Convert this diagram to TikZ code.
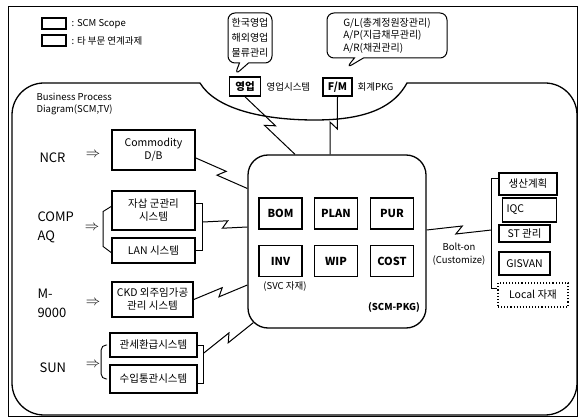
\documentclass[tikz,border=0pt]{standalone}
\usepackage{fontspec}
\setmainfont{Noto Sans CJK KR}
\usetikzlibrary{shapes.callouts,calc,positioning}

\begin{document}
\begin{tikzpicture}[x=1pt, y=-1pt,
    sysbox/.style={draw, line width=1.7pt, align=center, inner sep=1pt, font=\fontsize{10.5}{13}\selectfont},
    modbox/.style={draw, line width=1.9pt, minimum width=43pt, minimum height=31pt, font=\bfseries\fontsize{11}{13}\selectfont},
    optbox/.style={draw, line width=1.1pt, inner sep=1pt, font=\fontsize{10.5}{12}\selectfont},
    tagbox/.style={draw, line width=1.6pt, inner sep=1pt, font=\bfseries\fontsize{10.5}{12}\selectfont},
    src/.style={anchor=west, align=left, font=\fontsize{13}{19}\selectfont},
    imp/.style={font=\fontsize{15}{15}\selectfont, inner sep=0pt},
    note/.style={font=\fontsize{9.5}{12.5}\selectfont},
    bubble/.style={draw, rectangle callout, rounded corners=7pt, line width=1pt, callout pointer width=9pt, inner sep=2pt},
    brk/.style={line width=0.9pt},
    zap/.style={line width=1pt, to path={-- ($(\tikztostart)!0.55!(\tikztotarget)!4pt!90:(\tikztotarget)$) -- ($(\tikztostart)!0.45!(\tikztotarget)!4pt!-90:(\tikztotarget)$) -- (\tikztotarget)}}
  ]
  \useasboundingbox (0,0) rectangle (578,419);
  \draw[line width=0.6pt] (8,6) rectangle (577,416);
  \draw[line width=1.3pt] (200,83) [rounded corners=32pt] -- (12,83) -- (12,415) -- (577,415) -- (577,83) [sharp corners] -- (407,83)
    .. controls (395,105) and (370,120) .. (315,120) .. controls (260,120) and (215,108) .. (200,83);

  % legend
  \node[draw, line width=1.9pt, minimum width=24pt, minimum height=11pt, inner sep=0pt] (lgscm) at (54,23.5) {};
  \node[draw, line width=1.3pt, minimum width=24pt, minimum height=11pt, inner sep=0pt] (lgext) at (54,40.5) {};
  \node[note, anchor=west] (lgscmt) at (68,24) {: SCM Scope};
  \node[note, anchor=west] (lgextt) at (68,41) {: 타 부문 연계과제};

  % top systems
  \node[tagbox, minimum width=31pt, minimum height=19pt] (ye) at (245,86.5) {영업};
  \node[note, anchor=west] (yet) at (263,87) {영업시스템};
  \node[tagbox, minimum width=29pt, minimum height=18pt] (fm) at (337.5,87) {F/M};
  \node[note, anchor=west] (fmt) at (354,87) {회계PKG};
  \node[bubble, align=center, minimum width=44pt, minimum height=50pt, font=\fontsize{10}{15}\selectfont,
    callout absolute pointer={([xshift=6pt,yshift=1pt]ye.north west)}] (bub1) at (250,38) {한국영업\\해외영업\\물류관리};
  \node[bubble, align=left, minimum width=120pt, minimum height=45pt, font=\fontsize{10}{12.5}\selectfont,
    callout absolute pointer={([xshift=24pt,yshift=9pt]fm.north west)}] (bub2) at (387,35.5) {G/L(총계정원장관리)\\A/P(지급채무관리)\\A/R(채권관리)};

  \node[note, anchor=west, align=left] (bpd) at (33,104) {Business Process\\Diagram(SCM,TV)};

  % sources
  \node[src] (ncr) at (36,158) {NCR};
  \node[src] (comp) at (34,227) {COMP\\AQ};
  \node[src] (m9) at (34,303) {M-\\9000};
  \node[src] (sun) at (36,368) {SUN};
  \node[imp] (ar1) at (93,155) {$\Rightarrow$};
  \node[imp] (ar2) at (92,228) {$\Rightarrow$};
  \node[imp] (ar3) at (93,303) {$\Rightarrow$};
  \node[imp] (ar4) at (93,365) {$\Rightarrow$};

  \node[sysbox, minimum width=83pt, minimum height=40pt] (cdb) at (153.5,150) {Commodity\\D/B};
  \node[sysbox, minimum width=83pt, minimum height=39pt] (jasan) at (153.5,210.5) {자삽 군관리\\시스템};
  \node[sysbox, minimum width=83pt, minimum height=25pt] (lan) at (153.5,250.5) {LAN 시스템};
  \node[sysbox, minimum width=81pt, minimum height=35pt] (ckd) at (152.5,299.5) {CKD 외주임가공\\관리 시스템};
  \node[sysbox, minimum width=87pt, minimum height=24pt] (gwan) at (153.5,345) {관세환급시스템};
  \node[sysbox, minimum width=87pt, minimum height=28pt] (suip) at (153.5,379) {수입통관시스템};

  \draw[brk] ([yshift=4pt]jasan.west) -- ++(-8,5) -- ([xshift=-8pt,yshift=4pt]lan.west) -- ([yshift=-2pt]lan.west);
  \draw[brk] ([yshift=7.5pt]jasan.east) -- ++(7,0) |- (lan.east);
  \draw[brk, rounded corners=5pt] ([xshift=-2pt]gwan.west) -| ([xshift=-8pt]suip.west) -- ([xshift=-2pt]suip.west);
  \draw[brk] (gwan.east) -- ++(6,0) |- ([yshift=-4pt]suip.east);

  % SCM package
  \node[draw, line width=1.3pt, rounded corners=20pt, minimum width=178pt, minimum height=173pt] (scm) at (337,241.5) {};
  \node[modbox] (bom) at (280.5,213.5) {BOM};
  \node[modbox] (plan) at (336,213.5) {PLAN};
  \node[modbox] (pur) at (392,213.5) {PUR};
  \node[modbox] (inv) at (280.5,261) {INV};
  \node[modbox] (wip) at (336,261) {WIP};
  \node[modbox] (cost) at (392,261) {COST};
  \node[note] (svc) at (285,287) {(SVC 자재)};
  \node[note, font=\bfseries\fontsize{9.5}{12}\selectfont] (pkg) at (394,307) {(SCM-PKG)};

  % bolt-on side
  \node[optbox, minimum width=58pt, minimum height=22pt] (sc) at (528,184) {생산계획};
  \node[optbox, text width=46pt, align=left, minimum height=24pt, inner xsep=4pt] (iqc) at (529.5,210) {IQC};
  \node[optbox, minimum width=51pt, minimum height=17pt] (st) at (524.5,233.5) {ST 관리};
  \node[optbox, minimum width=51pt, minimum height=23pt] (gis) at (524.5,263.5) {GISVAN};
  \node[optbox, dotted, line width=1.2pt, minimum width=70pt, minimum height=24pt] (loc) at (533,295) {Local 자재};
  \draw[brk] ([yshift=6pt]sc.west) -- ++(-7,0) |- ([yshift=7pt]loc.west);
  \node[note, align=center] (bolt) at (459,254) {Bolt-on\\(Customize)};

  % links
  \coordinate (cdbo) at ([yshift=-8pt]cdb.east);
  \coordinate (scma) at ([yshift=53pt]scm.west);
  \coordinate (compo) at ([xshift=7pt,yshift=-11.5pt]jasan.east);
  \coordinate (scmb) at ([yshift=14.5pt]scm.west);
  \coordinate (scmc) at ([yshift=-43.5pt]scm.west);
  \coordinate (suno) at ([xshift=6pt,yshift=-8pt]gwan.east);
  \coordinate (scmd) at ([xshift=6pt,yshift=6pt]scm.south west);
  \coordinate (scme) at ([xshift=-42pt]scm.north);
  \coordinate (scmf) at ([xshift=-7pt]scm.north);
  \coordinate (scmg) at ([yshift=11.5pt]scm.east);
  \coordinate (bo) at ([xshift=-7pt,yshift=-46pt]sc.west);

  \draw[zap] (cdbo) to (scma);
  \draw[zap] (compo) to (scmb);
  \draw[zap] (ckd.east) to (scmc);
  \draw[zap] (suno) to (scmd);
  \draw[zap] (ye.south) to (scme);
  \draw[zap] (fm.south) to (scmf);
  \draw[zap] (scmg) to (bo);
\end{tikzpicture}
\end{document}
